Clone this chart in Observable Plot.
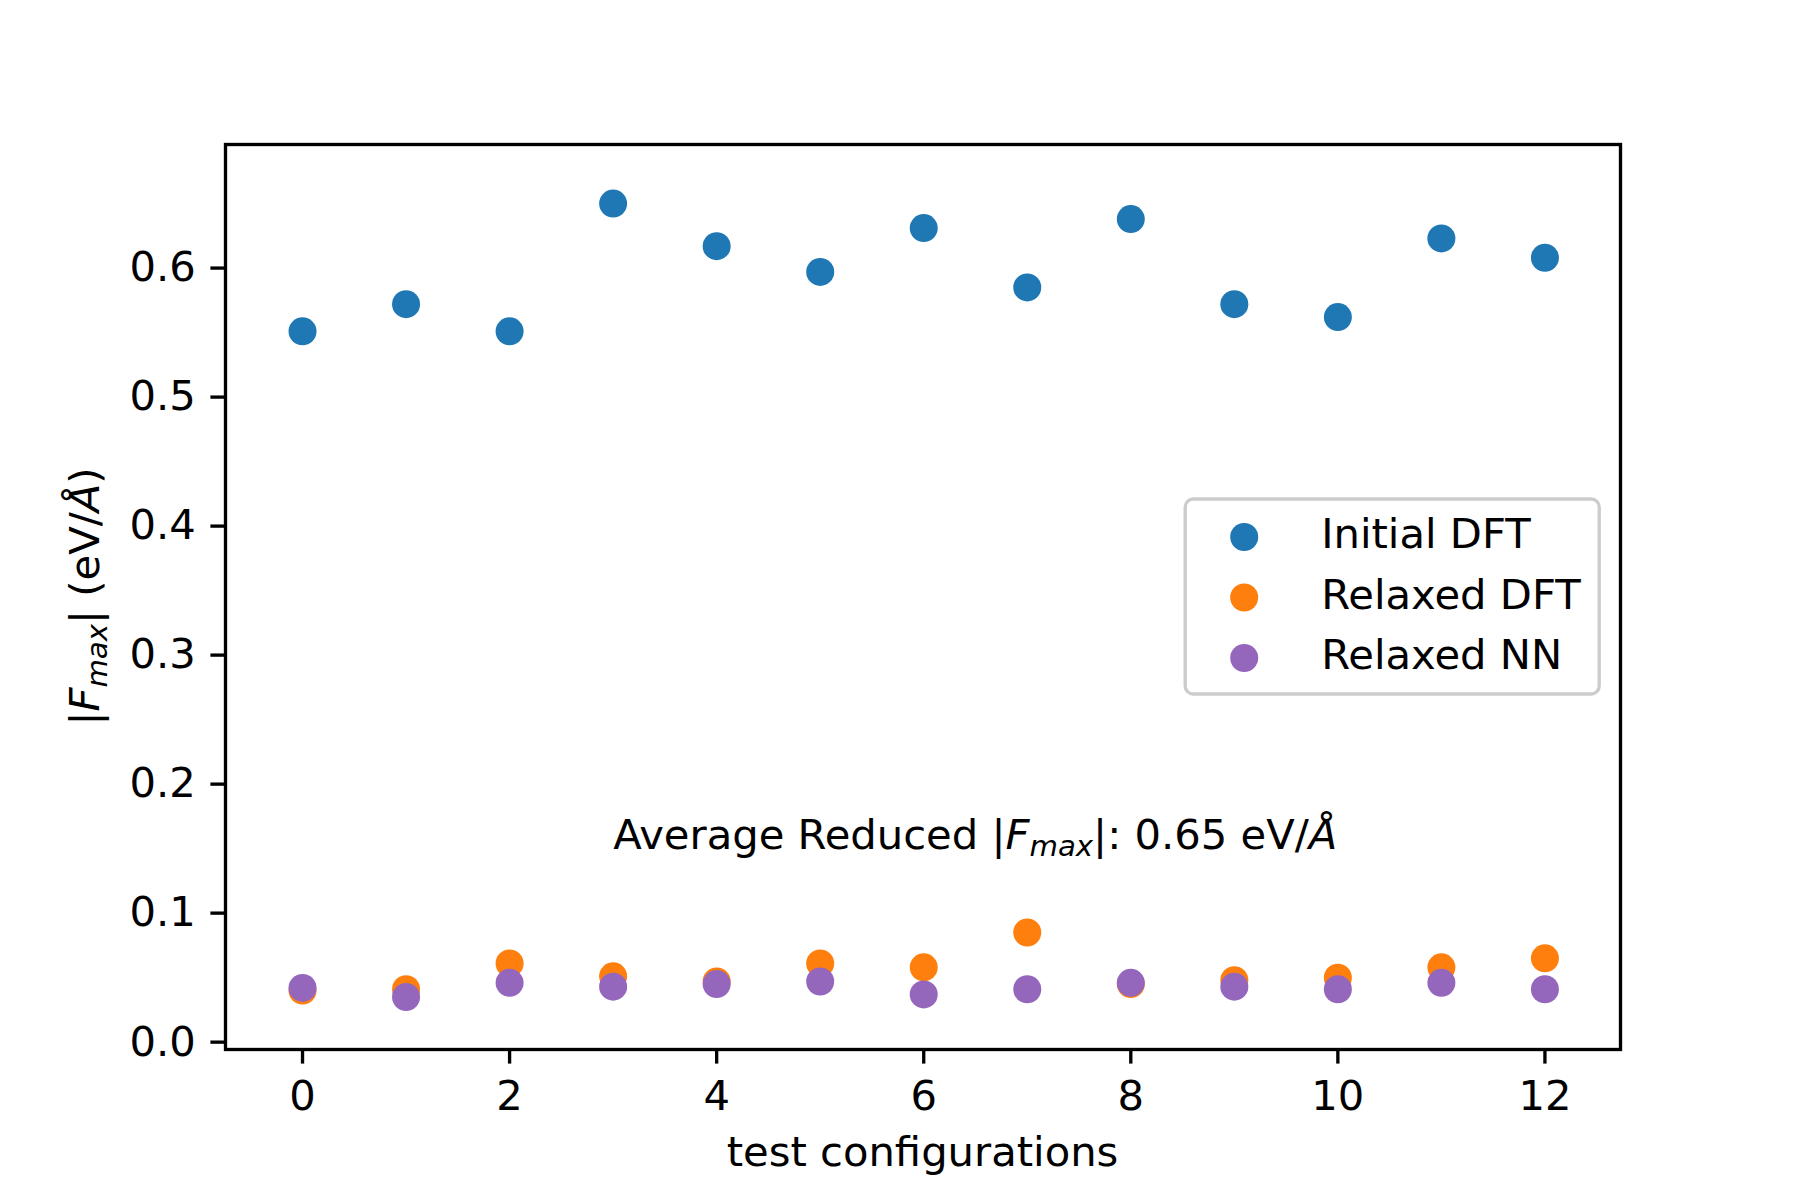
<!DOCTYPE html>
<html>
<head>
<meta charset="utf-8">
<script src="https://cdn.jsdelivr.net/npm/d3@7"></script>
<script src="https://cdn.jsdelivr.net/npm/@observablehq/plot@0.6"></script>
<style>
  body { margin: 0; background: #ffffff; }
  #chart { width: 1800px; height: 1200px; }
  svg { font-family: "DejaVu Sans", sans-serif; }
</style>
</head>
<body>
<div id="chart"></div>
<script>
// ---- data ----
const configs = [0, 1, 2, 3, 4, 5, 6, 7, 8, 9, 10, 11, 12];
const initialDFT = [0.551, 0.572, 0.551, 0.650, 0.617, 0.597, 0.631, 0.585, 0.638, 0.572, 0.562, 0.623, 0.608];
const relaxedDFT = [0.040, 0.041, 0.061, 0.051, 0.047, 0.061, 0.058, 0.085, 0.045, 0.048, 0.050, 0.058, 0.065];
const relaxedNN  = [0.042, 0.035, 0.046, 0.043, 0.045, 0.047, 0.037, 0.041, 0.046, 0.043, 0.041, 0.046, 0.041];
const seriesNames = ["Initial DFT", "Relaxed DFT", "Relaxed NN"];
const seriesColors = ["#1f77b4", "#ff7f0e", "#9467bd"];
const xTicks = [0, 2, 4, 6, 8, 10, 12];
const yTicks = [0.0, 0.1, 0.2, 0.3, 0.4, 0.5, 0.6];
const xLabel = "test configurations";
const annotX = [3];
const annotY = [0.15];
const annotValue = ["0.65"];

// ---- table built from arrays ----
const seriesValues = [initialDFT, relaxedDFT, relaxedNN];
const rows = [];
seriesValues.forEach((vals, si) => {
  configs.forEach((c, i) => rows.push({ config: c, value: vals[i], series: seriesNames[si] }));
});
const annotRows = annotX.map((x, i) => ({ x, y: annotY[i], v: annotValue[i] }));

// ---- layout ----
const W = 1800, H = 1200;
const mt = 144, mb = 151, ml = 225, mr = 180;
const FS = 41.7;          // 10pt at 300 dpi
const LW = 3.33;          // 0.8pt
const TICK = 14.6;        // 3.5pt

const svg = Plot.plot({
  width: W,
  height: H,
  marginTop: mt,
  marginBottom: mb,
  marginLeft: ml,
  marginRight: mr,
  style: { fontFamily: "DejaVu Sans", fontSize: FS + "px", background: "#ffffff", color: "#000000", overflow: "visible" },
  x: { domain: [-0.744, 12.73], label: null },
  y: { domain: [-0.0057, 0.6958], label: null },
  color: { domain: seriesNames, range: seriesColors },
  marks: [
    Plot.axisX({ ticks: xTicks, tickSize: TICK, tickPadding: 16, strokeWidth: LW, fontSize: FS, tickFormat: d => String(d), label: null }),
    Plot.axisY({ ticks: yTicks, tickSize: TICK, tickPadding: 15, strokeWidth: LW, fontSize: FS, tickFormat: d3.format(".1f"), label: null }),
    Plot.dot(rows, { x: "config", y: "value", fill: "series", r: 14 }),
    Plot.text(annotRows, { x: "x", y: "y", text: d => `Average Reduced |Fmax|: ${d.v} eV/Å`, textAnchor: "start", lineAnchor: "bottom", fontSize: FS, fill: "#000" }),
    Plot.frame({ stroke: "#000", strokeWidth: LW })
  ]
});
document.getElementById("chart").appendChild(svg);

const s = d3.select(svg);

// helper: write |F_max| with italic F and subscript
function writeFmax(sel) {
  sel.append("tspan").text("|");
  sel.append("tspan").attr("font-style", "italic").text("F");
  sel.append("tspan").attr("font-style", "italic").attr("font-size", FS * 0.7).attr("dy", 7.5).text("max");
  sel.append("tspan").attr("dy", -7.5).text("|");
}

// annotation: rebuild with math-style tspans
s.selectAll('g[aria-label="text"] text').each(function (d, i) {
  const t = d3.select(this);
  t.text("");
  t.append("tspan").text("Average Reduced ");
  writeFmax(t);
  t.append("tspan").text(`: ${annotRows[i].v} eV/`);
  t.append("tspan").attr("font-style", "italic").text("Å");
});

// x-axis label
s.append("text")
  .attr("x", ml + (W - ml - mr) / 2)
  .attr("y", 1166)
  .attr("text-anchor", "middle")
  .attr("font-size", FS)
  .attr("fill", "#000")
  .text(xLabel);

// y-axis label (rotated)
const yl = s.append("text")
  .attr("transform", `translate(99,${mt + (H - mt - mb) / 2}) rotate(-90)`)
  .attr("text-anchor", "middle")
  .attr("font-size", FS)
  .attr("fill", "#000");
writeFmax(yl);
yl.append("tspan").text(" (eV/");
yl.append("tspan").attr("font-style", "italic").text("Å");
yl.append("tspan").text(")");

// legend (center right, inside the axes)
const legW = 414, legH = 195;
const legRight = W - mr - 20.8;
const legCy = mt + (H - mt - mb) / 2;
const legX = legRight - legW, legY = legCy - legH / 2;
const lg = s.append("g").attr("aria-label", "legend");
lg.append("rect")
  .attr("x", legX).attr("y", legY).attr("width", legW).attr("height", legH)
  .attr("rx", 8).attr("ry", 8)
  .attr("fill", "#ffffff").attr("fill-opacity", 0.8)
  .attr("stroke", "#cccccc").attr("stroke-width", LW);
seriesNames.forEach((name, i) => {
  const cy = legY + 38 + i * 60.5;
  lg.append("circle").attr("cx", legX + 59).attr("cy", cy).attr("r", 14).attr("fill", seriesColors[i]);
  lg.append("text").attr("x", legX + 136).attr("y", cy + 11).attr("text-anchor", "start").attr("font-size", FS).attr("fill", "#000").text(name);
});
</script>
</body>
</html>
